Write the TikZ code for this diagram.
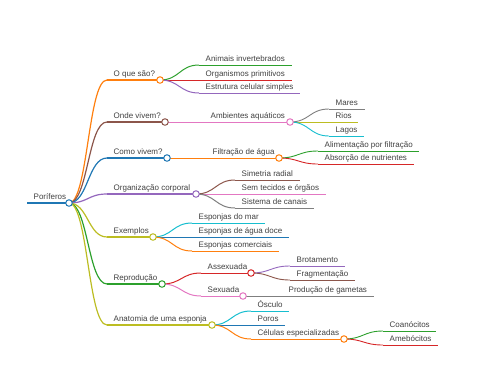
\documentclass[tikz,border=0pt]{standalone}
\usepackage{fontspec}
\setmainfont{Liberation Sans}
\usetikzlibrary{calc}

\definecolor{mmblue}{HTML}{1F77B4}
\definecolor{mmorange}{HTML}{FF7F0E}
\definecolor{mmgreen}{HTML}{2CA02C}
\definecolor{mmred}{HTML}{D62728}
\definecolor{mmpurple}{HTML}{9467BD}
\definecolor{mmbrown}{HTML}{8C564B}
\definecolor{mmpink}{HTML}{E377C2}
\definecolor{mmgray}{HTML}{7F7F7F}
\definecolor{mmolive}{HTML}{BCBD22}
\definecolor{mmcyan}{HTML}{17BECF}

\pgfdeclarelayer{bg}
\pgfsetlayers{bg,main}

\newcommand{\mmlink}[3]{\draw[#3] let \p1=(#1), \p2=(#2) in (\p1) .. controls ({(\x1+\x2)/2},\y1) and ({(\x1+\x2)/2},\y2) .. (\p2);}

\begin{document}
\begin{tikzpicture}[
        x=1pt, y=-1pt,
        mmtext/.style = {anchor=south west, inner xsep=6.5pt, inner ysep=1.2pt, text depth=2pt, font=\fontsize{8}{9.6}\selectfont, text=black!75},
        mmdot/.style = {circle, draw, fill=white, inner sep=0pt, minimum size=6.5pt, line width=1pt},
        lv0/.style = {line width=1.8pt},
        lv1/.style = {line width=1.2pt},
        lv2/.style = {line width=1pt},
        lv3/.style = {line width=0.9pt}
        ]
        \useasboundingbox (0,0) rectangle (480,384);

        \node[mmtext] (poriferos) at (27,203) {Poríferos};
        \node[mmdot, draw=mmblue] (c-poriferos) at (69,203) {};

        \node[mmtext] (oque) at (107,80) {O que são?};
        \node[mmdot, draw=mmorange] (c-oque) at (160,80) {};
        \node[mmtext] (onde) at (107,122) {Onde vivem?};
        \node[mmdot, draw=mmbrown] (c-onde) at (165,122) {};
        \node[mmtext] (como) at (107,158) {Como vivem?};
        \node[mmdot, draw=mmblue] (c-como) at (167,158) {};
        \node[mmtext] (organizacao) at (107,194) {Organização corporal};
        \node[mmdot, draw=mmpurple] (c-organizacao) at (196,194) {};
        \node[mmtext] (exemplos) at (107,237) {Exemplos};
        \node[mmdot, draw=mmolive] (c-exemplos) at (153,237) {};
        \node[mmtext] (reproducao) at (107,284) {Reprodução};
        \node[mmdot, draw=mmgreen] (c-reproducao) at (162,284) {};
        \node[mmtext] (anatomia) at (107,325) {Anatomia de uma esponja};
        \node[mmdot, draw=mmolive] (c-anatomia) at (212,325) {};

        \node[mmtext] (animais) at (199,65) {Animais invertebrados};
        \node[mmtext] (organismos) at (199,80) {Organismos primitivos};
        \node[mmtext] (estrutura) at (199,93) {Estrutura celular simples};

        \node[mmtext] (ambientes) at (204,122) {Ambientes aquáticos};
        \node[mmdot, draw=mmpink] (c-ambientes) at (290,122) {};
        \node[mmtext] (mares) at (329,109) {Mares};
        \node[mmtext] (rios) at (329,122) {Rios};
        \node[mmtext] (lagos) at (329,136) {Lagos};

        \node[mmtext] (filtracao) at (206,158) {Filtração de água};
        \node[mmdot, draw=mmorange] (c-filtracao) at (279,158) {};
        \node[mmtext] (alimentacao) at (318,151) {Alimentação por filtração};
        \node[mmtext] (absorcao) at (318,164) {Absorção de nutrientes};

        \node[mmtext] (simetria) at (235,180) {Simetria radial};
        \node[mmtext] (tecidos) at (235,194) {Sem tecidos e órgãos};
        \node[mmtext] (canais) at (235,208) {Sistema de canais};

        \node[mmtext] (mar) at (192,223) {Esponjas do mar};
        \node[mmtext] (doce) at (192,237) {Esponjas de água doce};
        \node[mmtext] (comerciais) at (192,251) {Esponjas comerciais};

        \node[mmtext] (assexuada) at (201,273) {Assexuada};
        \node[mmdot, draw=mmred] (c-assexuada) at (251,273) {};
        \node[mmtext] (brotamento) at (290,266) {Brotamento};
        \node[mmtext] (fragmentacao) at (290,280) {Fragmentação};
        \node[mmtext] (sexuada) at (201,296) {Sexuada};
        \node[mmdot, draw=mmpink] (c-sexuada) at (243,296) {};
        \node[mmtext] (gametas) at (282,296) {Produção de gametas};

        \node[mmtext] (osculo) at (251,311) {Ósculo};
        \node[mmtext] (poros) at (251,325) {Poros};
        \node[mmtext] (celulas) at (251,339) {Células especializadas};
        \node[mmdot, draw=mmorange] (c-celulas) at (344,339) {};
        \node[mmtext] (coanocitos) at (383,331) {Coanócitos};
        \node[mmtext] (amebocitos) at (383,345) {Amebócitos};

        \begin{pgfonlayer}{bg}
                \draw[lv0, mmblue] (poriferos.south west) -- (c-poriferos.center);

                \draw[lv1, mmorange] (oque.south west) -- (c-oque.center);
                \draw[lv1, mmbrown] (onde.south west) -- (c-onde.center);
                \draw[lv1, mmblue] (como.south west) -- (c-como.center);
                \draw[lv1, mmpurple] (organizacao.south west) -- (c-organizacao.center);
                \draw[lv1, mmolive] (exemplos.south west) -- (c-exemplos.center);
                \draw[lv1, mmgreen] (reproducao.south west) -- (c-reproducao.center);
                \draw[lv1, mmolive] (anatomia.south west) -- (c-anatomia.center);
                \mmlink{c-poriferos}{oque.south west}{lv1, mmorange}
                \mmlink{c-poriferos}{onde.south west}{lv1, mmbrown}
                \mmlink{c-poriferos}{como.south west}{lv1, mmblue}
                \mmlink{c-poriferos}{organizacao.south west}{lv1, mmpurple}
                \mmlink{c-poriferos}{exemplos.south west}{lv1, mmolive}
                \mmlink{c-poriferos}{reproducao.south west}{lv1, mmgreen}
                \mmlink{c-poriferos}{anatomia.south west}{lv1, mmolive}

                \draw[lv2, mmgreen] (animais.south west) -- (animais.south east);
                \draw[lv2, mmred] (organismos.south west) -- (organismos.south east);
                \draw[lv2, mmpurple] (estrutura.south west) -- (estrutura.south east);
                \mmlink{c-oque}{animais.south west}{lv2, mmgreen}
                \mmlink{c-oque}{organismos.south west}{lv2, mmred}
                \mmlink{c-oque}{estrutura.south west}{lv2, mmpurple}

                \draw[lv2, mmpink] (c-onde.center) -- (c-ambientes.center);
                \draw[lv3, mmgray] (mares.south west) -- (mares.south east);
                \draw[lv3, mmolive] (rios.south west) -- (rios.south east);
                \draw[lv3, mmcyan] (lagos.south west) -- (lagos.south east);
                \mmlink{c-ambientes}{mares.south west}{lv3, mmgray}
                \mmlink{c-ambientes}{rios.south west}{lv3, mmolive}
                \mmlink{c-ambientes}{lagos.south west}{lv3, mmcyan}

                \draw[lv2, mmorange] (c-como.center) -- (c-filtracao.center);
                \draw[lv3, mmgreen] (alimentacao.south west) -- (alimentacao.south east);
                \draw[lv3, mmred] (absorcao.south west) -- (absorcao.south east);
                \mmlink{c-filtracao}{alimentacao.south west}{lv3, mmgreen}
                \mmlink{c-filtracao}{absorcao.south west}{lv3, mmred}

                \draw[lv2, mmbrown] (simetria.south west) -- (simetria.south east);
                \draw[lv2, mmpink] (c-organizacao.center) -- (tecidos.south east);
                \draw[lv2, mmgray] (canais.south west) -- (canais.south east);
                \mmlink{c-organizacao}{simetria.south west}{lv2, mmbrown}
                \mmlink{c-organizacao}{canais.south west}{lv2, mmgray}

                \draw[lv2, mmcyan] (mar.south west) -- (mar.south east);
                \draw[lv2, mmblue] (c-exemplos.center) -- (doce.south east);
                \draw[lv2, mmorange] (comerciais.south west) -- (comerciais.south east);
                \mmlink{c-exemplos}{mar.south west}{lv2, mmcyan}
                \mmlink{c-exemplos}{comerciais.south west}{lv2, mmorange}

                \draw[lv2, mmred] (assexuada.south west) -- (c-assexuada.center);
                \draw[lv2, mmpink] (sexuada.south west) -- (c-sexuada.center);
                \mmlink{c-reproducao}{assexuada.south west}{lv2, mmred}
                \mmlink{c-reproducao}{sexuada.south west}{lv2, mmpink}
                \draw[lv3, mmpurple] (brotamento.south west) -- (brotamento.south east);
                \draw[lv3, mmbrown] (fragmentacao.south west) -- (fragmentacao.south east);
                \mmlink{c-assexuada}{brotamento.south west}{lv3, mmpurple}
                \mmlink{c-assexuada}{fragmentacao.south west}{lv3, mmbrown}
                \draw[lv3, mmgray] (c-sexuada.center) -- (gametas.south east);

                \draw[lv2, mmcyan] (osculo.south west) -- (osculo.south east);
                \draw[lv2, mmblue] (c-anatomia.center) -- (poros.south east);
                \draw[lv2, mmorange] (celulas.south west) -- (c-celulas.center);
                \mmlink{c-anatomia}{osculo.south west}{lv2, mmcyan}
                \mmlink{c-anatomia}{celulas.south west}{lv2, mmorange}
                \draw[lv3, mmgreen] (coanocitos.south west) -- (coanocitos.south east);
                \draw[lv3, mmred] (amebocitos.south west) -- (amebocitos.south east);
                \mmlink{c-celulas}{coanocitos.south west}{lv3, mmgreen}
                \mmlink{c-celulas}{amebocitos.south west}{lv3, mmred}
        \end{pgfonlayer}
\end{tikzpicture}
\end{document}
